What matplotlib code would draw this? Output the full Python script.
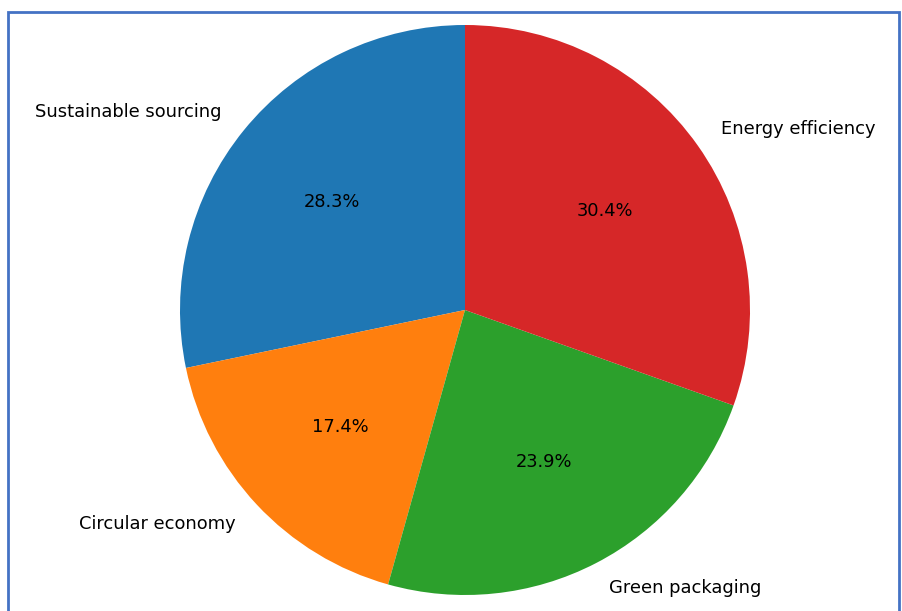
import matplotlib.pyplot as plt
from matplotlib.patches import Rectangle

labels = ['Sustainable sourcing', 'Circular economy', 'Green packaging', 'Energy efficiency']
values = [13, 8, 11, 14]
colors = ['#1f77b4', '#ff7f0e', '#2ca02c', '#d62728']

W, H = 902, 611
fig = plt.figure(figsize=(W / 100, H / 100), dpi=100)

# axes sized to the pie circle: center (465, 310), radius 285 px
cx, cy, r = 465, 310, 285
ax = fig.add_axes([(cx - r) / W, (H - cy - r) / H, 2 * r / W, 2 * r / H])
wedges, texts, autotexts = ax.pie(values, labels=labels, colors=colors,
                                  autopct='%1.1f%%', startangle=90,
                                  textprops={'fontsize': 12.9})
for t in texts + autotexts:
    t.set_clip_on(False)
ax.set_xlim(-1, 1)
ax.set_ylim(-1, 1)
ax.set_aspect('equal')
ax.axis('off')

# blue frame of the screenshot
fig.patches.append(Rectangle((8 / W, -0.05), (899 - 8) / W, 1.05 - 12 / H,
                             transform=fig.transFigure, fill=False,
                             edgecolor='#4472C4', linewidth=2))

fig.savefig('out.png', dpi=100)
